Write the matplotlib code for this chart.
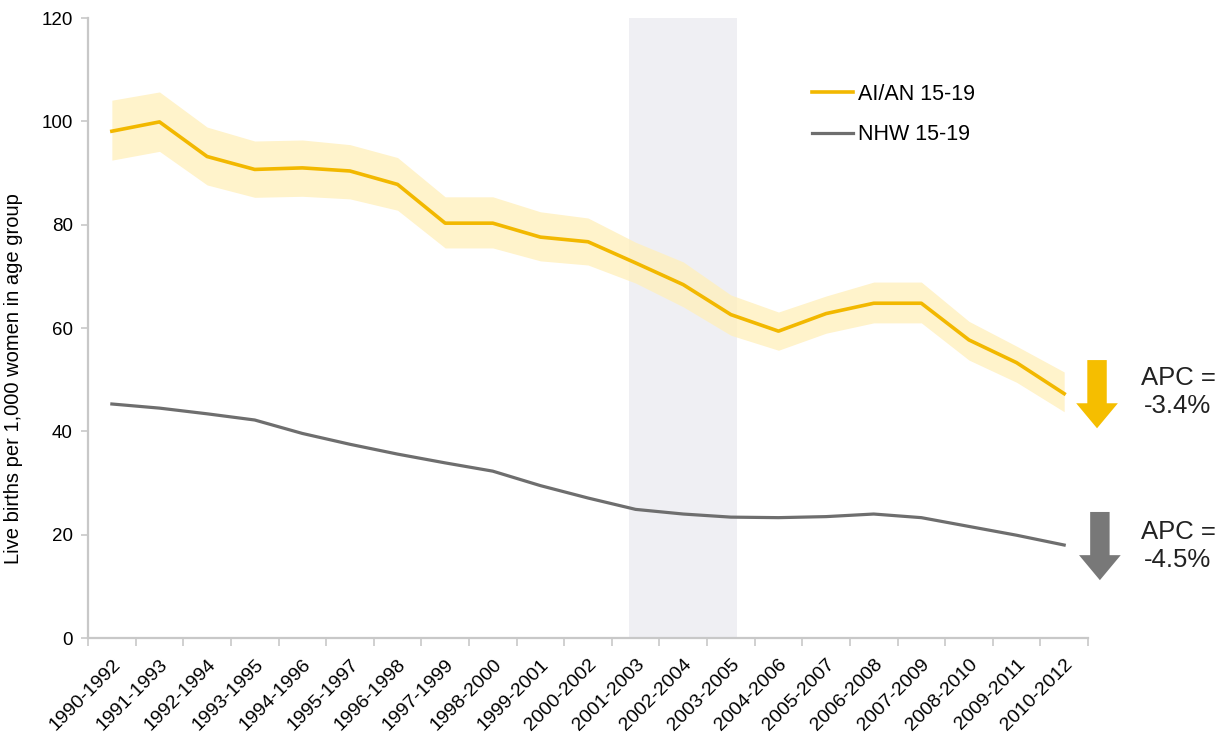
import matplotlib.pyplot as plt

plt.rcParams['font.family'] = ['Liberation Sans', 'DejaVu Sans']

periods = ["1990-1992", "1991-1993", "1992-1994", "1993-1995", "1994-1996", "1995-1997",
           "1996-1998", "1997-1999", "1998-2000", "1999-2001", "2000-2002", "2001-2003",
           "2002-2004", "2003-2005", "2004-2006", "2005-2007", "2006-2008", "2007-2009",
           "2008-2010", "2009-2011", "2010-2012"]

aian = [98.1, 99.9, 93.2, 90.7, 91.0, 90.4, 87.8, 80.3, 80.3, 77.6, 76.7, 72.6,
        68.4, 62.6, 59.4, 62.8, 64.8, 64.8, 57.7, 53.3, 47.3]
aian_hi = [104.1, 105.7, 98.9, 96.2, 96.4, 95.5, 93.0, 85.4, 85.4, 82.5, 81.3, 76.6,
           72.8, 66.4, 63.1, 66.2, 68.9, 68.9, 61.3, 56.5, 51.5]
aian_lo = [92.5, 94.2, 87.7, 85.3, 85.5, 85.0, 82.8, 75.5, 75.5, 73.0, 72.2, 68.7,
           64.1, 58.6, 55.7, 59.0, 61.0, 61.0, 53.8, 49.5, 43.8]

nhw = [45.3, 44.5, 43.4, 42.2, 39.6, 37.5, 35.6, 33.9, 32.3, 29.5, 27.1, 24.9,
       24.0, 23.4, 23.3, 23.5, 24.0, 23.3, 21.6, 19.9, 18.0]

# shaded period (in category index units)
shade_start = 10.87
shade_end = 13.12

yellow = '#F2B800'
band = '#FFF0BE'
grey = '#6E6E6E'

fig = plt.figure(figsize=(12.23, 7.40), dpi=100)
ax = fig.add_axes([0.072, 0.1378, 0.8176, 0.8378])

x = list(range(len(periods)))

ax.axvspan(shade_start, shade_end, color='#EFEFF3', zorder=0, lw=0)
ax.fill_between(x, aian_lo, aian_hi, color=band, alpha=0.8, lw=0, zorder=1)
ax.plot(x, aian, color=yellow, lw=2.6, label='AI/AN 15-19', zorder=3)
ax.plot(x, nhw, color=grey, lw=2.3, label='NHW 15-19', zorder=3)

ax.set_xlim(-0.5, len(periods) - 0.5)
ax.set_ylim(0, 120)
ax.set_yticks(range(0, 121, 20))
ax.set_xticks(x)
ax.set_xticklabels(periods, rotation=45, ha='right', rotation_mode='anchor', fontsize=14)
ax.set_xticks([i - 0.5 for i in range(len(periods) + 1)], minor=True)
ax.tick_params(axis='x', which='major', length=0, pad=13)
ax.tick_params(axis='x', which='minor', length=6, color='#C8C8C8', width=1.2)
ax.tick_params(axis='y', length=5, color='#C8C8C8', width=1.2, labelsize=13.5, pad=6)

for s in ['top', 'right']:
    ax.spines[s].set_visible(False)
for s in ['left', 'bottom']:
    ax.spines[s].set_color('#C8C8C8')
    ax.spines[s].set_linewidth(1.6)

ax.set_ylabel('Live births per 1,000 women in age group', fontsize=14.5)
ax.yaxis.set_label_coords(-0.065, 0.418)

ax.legend(loc='upper left', bbox_to_anchor=(0.705, 0.925), frameon=False, fontsize=15.5,
          handlelength=1.9, handletextpad=0.2, labelspacing=0.9)

# APC arrows and labels
arrow_x = 20.69
ax.annotate('', xy=(arrow_x, 40.6), xytext=(arrow_x, 53.8), annotation_clip=False,
            arrowprops=dict(width=14, headwidth=30, headlength=18, color='#F5BE00', shrink=0, lw=0))
ax.annotate('', xy=(arrow_x + 0.06, 11.2), xytext=(arrow_x + 0.06, 24.4), annotation_clip=False,
            arrowprops=dict(width=14, headwidth=30, headlength=18, color='#787878', shrink=0, lw=0))
ax.text(22.39, 47.6, 'APC =\n-3.4%', ha='center', va='center', fontsize=18.5, clip_on=False,
        linespacing=1.2, color='#222222')
ax.text(22.39, 17.8, 'APC =\n-4.5%', ha='center', va='center', fontsize=18.5, clip_on=False,
        linespacing=1.2, color='#222222')

plt.savefig('out.png')
plt.close()
